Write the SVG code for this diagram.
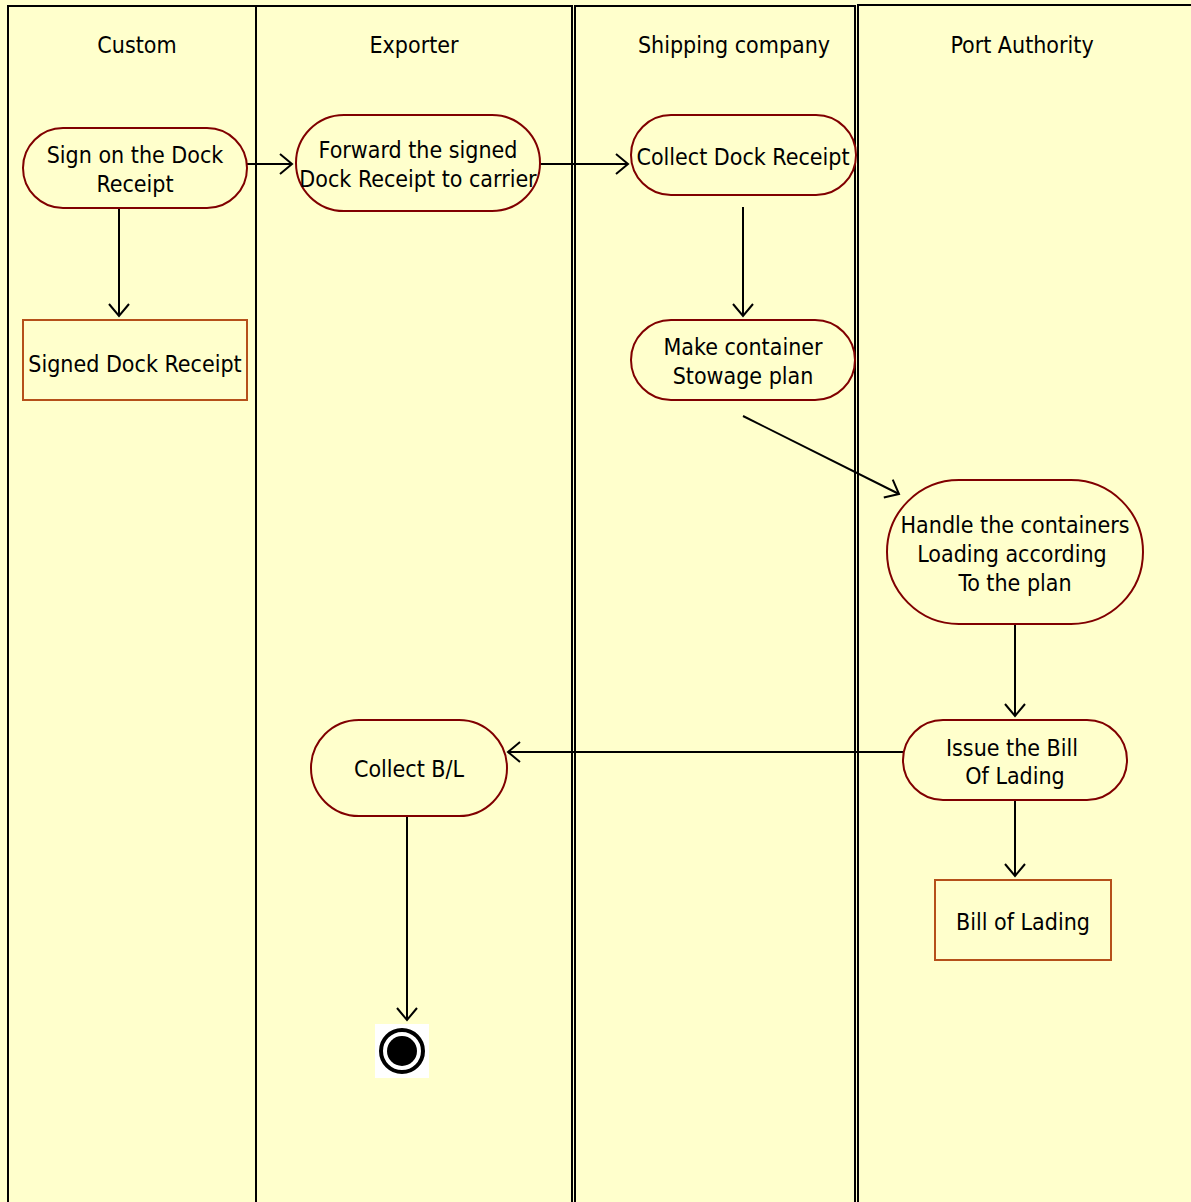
<svg xmlns="http://www.w3.org/2000/svg" width="1191" height="1202" viewBox="0 0 1191 1202">
<style>
.bg{fill:#FFFFCC}
.lane{fill:#FFFFCC;stroke:#000;stroke-width:2}
.act{fill:#FFFFCC;stroke:#800000;stroke-width:2}
.obj{fill:#FFFFCC;stroke:#B5501A;stroke-width:2}
text{font-family:"DejaVu Sans Condensed","DejaVu Sans",sans-serif;font-size:23px;fill:#000;text-anchor:middle;dominant-baseline:central}
.edge{fill:none;stroke:#000;stroke-width:2;marker-end:url(#arr)}
</style>
<defs>
<marker id="arr" markerUnits="userSpaceOnUse" markerWidth="16" markerHeight="24" refX="13" refY="12" orient="auto" viewBox="0 0 16 24">
<path d="M1,2 L13,12 L1,22" fill="none" stroke="#000" stroke-width="2"/>
</marker>
</defs>
<rect class="bg" x="0" y="0" width="1191" height="1202"/>
<g id="lanes">
<g id="lane-custom"><rect class="lane" x="8" y="6" width="248" height="1210"/><text x="137" y="45">Custom</text></g>
<g id="lane-exporter"><rect class="lane" x="256" y="6" width="316" height="1210"/><text x="414" y="45">Exporter</text></g>
<g id="lane-shipping"><rect class="lane" x="575" y="6" width="280" height="1210"/><text x="734" y="45">Shipping company</text></g>
<g id="lane-port"><rect class="lane" x="858" y="5" width="350" height="1210"/><text x="1022" y="45">Port Authority</text></g>
</g>
<g id="connectors">
<line class="edge" x1="247" y1="164" x2="292" y2="164"/>
<line class="edge" x1="536" y1="164" x2="628" y2="164"/>
<line class="edge" x1="119" y1="208" x2="119" y2="316"/>
<line class="edge" x1="743" y1="207" x2="743" y2="316"/>
<line class="edge" x1="743" y1="416" x2="899" y2="494"/>
<line class="edge" x1="1015" y1="624" x2="1015" y2="716"/>
<line class="edge" x1="903" y1="752" x2="508" y2="752"/>
<line class="edge" x1="1015" y1="800" x2="1015" y2="876"/>
<line class="edge" x1="407" y1="816" x2="407" y2="1020"/>
</g>
<g id="n-sign"><rect class="act" x="23" y="128" width="224" height="80" rx="40"/><text x="135" y="155">Sign on the Dock</text><text x="135" y="184">Receipt</text></g>
<g id="n-forward"><rect class="act" x="296" y="115" width="244" height="96" rx="48"/><text x="418" y="150">Forward the signed</text><text x="418" y="179">Dock Receipt to carrier</text></g>
<g id="n-collect-dr"><rect class="act" x="631" y="115" width="225" height="80" rx="40"/><text x="743" y="157">Collect Dock Receipt</text></g>
<g id="n-stowage"><rect class="act" x="631" y="320" width="224" height="80" rx="40"/><text x="743" y="347">Make container</text><text x="743" y="376">Stowage plan</text></g>
<g id="n-handle"><rect class="act" x="887" y="480" width="256" height="144" rx="72"/><text x="1015" y="525">Handle the containers</text><text x="1012" y="554">Loading according</text><text x="1015" y="583">To the plan</text></g>
<g id="n-issue"><rect class="act" x="903" y="720" width="224" height="80" rx="40"/><text x="1012" y="748">Issue the Bill</text><text x="1015" y="776">Of Lading</text></g>
<g id="n-collect-bl"><rect class="act" x="311" y="720" width="196" height="96" rx="48"/><text x="409" y="769">Collect B/L</text></g>
<g id="n-signed-dr"><rect class="obj" x="23" y="320" width="224" height="80"/><text x="135" y="364">Signed Dock Receipt</text></g>
<g id="n-bol"><rect class="obj" x="935" y="880" width="176" height="80"/><text x="1023" y="922">Bill of Lading</text></g>
<g id="n-end"><rect x="375" y="1024" width="54" height="54" fill="#FFFFFF"/><circle cx="402" cy="1051" r="21" fill="none" stroke="#000" stroke-width="4"/><circle cx="402" cy="1051" r="15" fill="#000"/></g>
</svg>
